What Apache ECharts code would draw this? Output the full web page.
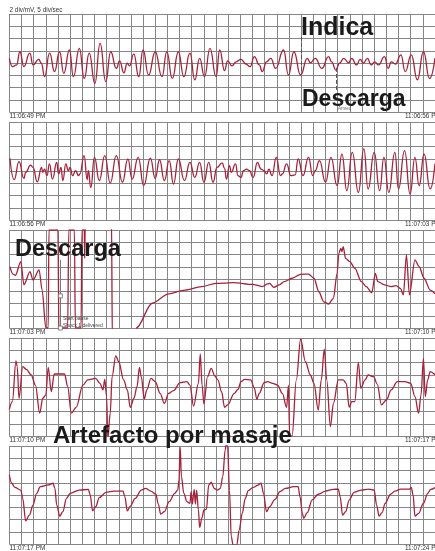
<!DOCTYPE html>
<html>
<head>
<meta charset="utf-8">
<script src="https://cdn.jsdelivr.net/npm/echarts/dist/echarts.min.js"></script>
<style>
  html, body { margin: 0; padding: 0; background: #fff; }
  #chart { width: 435px; height: 551px; }
</style>
</head>
<body>
<div id="chart"></div>
<script>
// ECG strips, 7 s each, [seconds, mV]
const strip1 = [
  [0.00,0.19],[0.055,-0.15],[0.12,-0.08],[0.174,0.46],[0.24,-0.15],[0.337,0.40],[0.39,-0.08],[0.484,0.15],
  [0.527,-0.01],[0.58,-0.56],[0.663,0.40],[0.744,-0.35],[0.826,0.46],[0.896,-0.42],[0.989,0.53],[1.054,-0.56],
  [1.151,0.60],[1.233,-0.63],[1.314,0.40],[1.407,-0.83],[1.493,0.80],[1.586,-0.76],[1.667,0.46],[1.76,-0.22],
  [1.814,0.09],[1.884,-0.40],[1.938,-0.01],[1.977,-0.12],[2.047,0.37],[2.129,-0.56],[2.199,0.53],[2.29,-0.49],
  [2.40,0.46],[2.51,-0.56],[2.59,0.46],[2.68,-0.63],[2.78,0.46],[2.87,-0.56],[2.97,0.40],[3.05,-0.69],
  [3.13,0.19],[3.21,-0.56],[3.30,0.60],[3.40,-0.56],[3.46,0.53],[3.54,-0.31],[3.59,0.09],[3.66,-0.12],
  [3.73,0.05],[3.81,0.15],[3.89,-0.04],[3.96,-0.15],[4.03,0.26],[4.11,-0.08],[4.16,-0.35],[4.23,0.05],
  [4.30,0.19],[4.38,-0.22],[4.51,0.53],[4.59,-0.49],[4.68,0.46],[4.79,-0.49],[4.90,0.19],[4.95,0.01],
  [5.03,0.19],[5.14,-0.22],[5.25,0.26],[5.30,0.05],[5.37,-0.29],[5.43,-0.01],[5.50,0.19],[5.58,0.01],
  [5.63,0.19],[5.71,-0.08],[5.77,0.15],[5.82,-0.01],[5.89,0.19],[5.95,-0.08],[6.01,0.05],[6.07,-0.08],
  [6.17,0.26],[6.23,-0.22],[6.28,0.05],[6.35,-0.04],[6.44,0.33],[6.51,-0.35],[6.61,0.33],[6.71,-0.69],
  [6.81,0.46],[6.91,-0.63],[7.0,0.2]
];
const strip2 = [
  [0.01,0.52],[0.08,-0.35],[0.16,0.38],[0.24,-0.30],[0.27,-0.05],[0.35,0.24],[0.39,0.15],[0.46,-0.44],
  [0.53,0.15],[0.55,-0.05],[0.58,0.08],[0.62,-0.19],[0.66,0.29],[0.71,-0.33],[0.78,0.35],[0.81,-0.12],
  [0.85,0.15],[0.88,-0.39],[0.93,0.29],[0.97,0.01],[1.00,0.15],[1.04,-0.19],[1.09,0.01],[1.14,-0.19],
  [1.16,-0.12],[1.23,0.63],[1.28,-0.35],[1.30,0.01],[1.34,-0.67],[1.40,0.56],[1.48,-0.39],[1.57,0.63],
  [1.66,-0.49],[1.76,0.63],[1.86,-0.46],[1.95,0.49],[2.02,-0.33],[2.12,0.56],[2.21,-0.60],[2.32,0.52],
  [2.40,-0.30],[2.47,0.46],[2.55,-0.39],[2.63,0.42],[2.70,-0.53],[2.78,0.49],[2.88,-0.39],[2.97,0.35],
  [3.05,-0.26],[3.13,0.35],[3.20,-0.46],[3.28,0.35],[3.35,-0.46],[3.415,0.15],[3.50,0.33],[3.54,0.11],
  [3.57,-0.33],[3.62,0.22],[3.65,-0.05],[3.72,0.29],[3.76,-0.19],[3.81,-0.26],[3.85,0.01],[3.90,0.08],
  [3.95,0.01],[4.01,-0.26],[4.08,0.35],[4.14,0.08],[4.19,0.01],[4.23,-0.12],[4.27,0.08],[4.32,-0.19],
  [4.39,0.56],[4.46,-0.19],[4.49,-0.12],[4.56,0.29],[4.63,-0.19],[4.70,-0.16],[4.75,0.49],[4.83,-0.19],
  [4.92,0.56],[4.99,-0.19],[5.03,0.01],[5.10,0.42],[5.20,-0.46],[5.29,0.56],[5.39,-0.60],[5.47,0.69],
  [5.55,-0.80],[5.64,0.76],[5.74,-0.87],[5.83,0.90],[5.90,-0.73],[6.00,0.76],[6.09,-0.80],[6.16,0.56],
  [6.24,-0.87],[6.34,0.76],[6.40,-0.73],[6.50,0.83],[6.59,-0.94],[6.67,0.56],[6.74,-0.60],[6.82,0.69],
  [6.92,-0.73],[7.0,0.3]
];
const strip3 = [
  [0.01,0.50],[0.06,0.20],[0.10,0.15],[0.19,0.71],[0.24,-0.24],[0.34,0.30],[0.39,-0.04],[0.49,0.37],
  [0.54,-0.45],[0.60,-2],[0.64,-2],[0.652,2],[0.80,2],[0.815,-2],[0.96,-2],[0.978,2],[1.07,2],[1.086,-2],
  [1.18,-2],[1.195,2],[1.233,2],[1.24,0.84],[1.25,2.6],[1.68,2.6],[1.695,-2.6],[2.06,-2.6],[2.09,-2.0],
  [2.35,-0.99],[2.62,-0.61],[2.89,-0.45],[3.16,-0.31],[3.40,-0.18],[3.68,-0.15],[4.00,-0.22],[4.16,-0.31],
  [4.25,-0.20],[4.28,-0.18],[4.35,-0.34],[4.44,-0.24],[4.52,-0.11],[4.65,0.03],[4.79,0.19],[4.92,0.20],
  [5.01,0.03],[5.09,-0.52],[5.17,-0.93],[5.25,-1.02],[5.33,-0.79],[5.39,0.23],[5.42,1.05],[5.45,1.25],
  [5.47,1.12],[5.49,1.32],[5.53,0.84],[5.60,0.71],[5.68,0.44],[5.79,-0.11],[5.87,-0.31],[5.96,-0.56],
  [6.02,0.23],[6.06,-0.11],[6.17,-0.24],[6.28,-0.31],[6.36,-0.27],[6.43,-0.38],[6.48,-0.65],[6.53,0.98],
  [6.58,-0.65],[6.67,0.78],[6.74,0.50],[6.82,0.03],[6.92,-0.45],[7.0,-0.6]
];
const strip4 = [
  [0.00,-0.91],[0.05,-0.60],[0.11,1.07],[0.13,0.83],[0.16,-0.46],[0.22,0.83],[0.28,0.72],[0.36,0.49],
  [0.43,0.08],[0.50,-1.07],[0.55,-0.46],[0.60,-0.33],[0.64,0.80],[0.69,-0.19],[0.74,0.53],[0.91,0.53],
  [0.96,0.01],[1.02,-1.07],[1.10,-0.83],[1.21,0.08],[1.29,0.29],[1.42,0.35],[1.49,0.15],[1.54,-0.12],
  [1.57,0.31],[1.60,-0.39],[1.62,-2.1],[1.66,-1.07],[1.69,0.42],[1.75,1.27],[1.80,1.03],[1.88,0.29],
  [1.94,-0.12],[1.99,-0.83],[2.05,-0.46],[2.10,0.01],[2.14,0.80],[2.17,0.42],[2.22,-0.49],[2.26,-0.12],
  [2.33,0.35],[2.40,0.22],[2.48,-0.26],[2.55,-0.67],[2.62,-0.26],[2.70,-0.15],[2.81,0.18],[2.92,0.22],
  [2.97,0.08],[3.03,-0.78],[3.11,0.15],[3.14,1.35],[3.17,0.08],[3.20,-0.69],[3.26,0.42],[3.32,0.76],
  [3.38,0.45],[3.43,0.29],[3.49,-0.19],[3.54,-0.83],[3.59,-0.73],[3.70,-0.26],[3.76,-0.10],[3.81,0.22],
  [3.87,0.31],[3.97,0.29],[4.03,-0.05],[4.07,-0.50],[4.11,-0.26],[4.19,0.18],[4.25,0.22],[4.33,0.15],
  [4.41,0.08],[4.49,-0.26],[4.56,-0.83],[4.59,0.08],[4.61,-2.0],[4.65,-2.0],[4.72,0.29],[4.79,1.95],
  [4.87,1.03],[4.95,0.49],[5.01,0.15],[5.08,-0.94],[5.13,0.29],[5.18,1.54],[5.22,0.29],[5.28,-1.62],
  [5.33,-0.67],[5.41,0.29],[5.49,0.29],[5.54,0.15],[5.59,-0.83],[5.63,-0.60],[5.68,-0.60],[5.74,0.99],
  [5.78,-0.05],[5.85,0.29],[5.90,0.49],[5.99,0.42],[6.05,0.12],[6.12,-0.73],[6.20,-0.53],[6.28,-0.12],
  [6.38,0.22],[6.50,0.22],[6.60,0.15],[6.67,-0.39],[6.73,-1.07],[6.77,-0.33],[6.81,1.17],[6.84,-0.39],
  [6.88,0.29],[6.92,0.63],[7.0,0.5]
];
const strip5 = [
  [0.00,0.82],[0.04,0.48],[0.09,0.31],[0.19,0.20],[0.22,-0.14],[0.27,-1.05],[0.33,-0.82],[0.39,-0.41],
  [0.45,0.07],[0.51,0.34],[0.64,0.41],[0.72,0.48],[0.75,0.27],[0.78,-0.41],[0.83,-0.86],[0.88,-0.68],
  [0.94,-0.14],[1.00,0.07],[1.15,0.20],[1.30,0.23],[1.33,0.00],[1.37,-0.65],[1.42,-0.48],[1.48,-0.11],
  [1.59,0.11],[1.72,0.16],[1.87,0.16],[1.90,-0.07],[1.94,-0.65],[1.99,-0.45],[2.07,-0.14],[2.17,0.20],
  [2.24,0.27],[2.33,0.16],[2.41,0.03],[2.45,-0.37],[2.49,-0.78],[2.55,-0.68],[2.63,-0.27],[2.72,0.07],
  [2.77,0.20],[2.79,0.61],[2.81,1.95],[2.83,0.75],[2.87,0.07],[2.92,-0.27],[2.97,-0.34],[2.99,0.14],
  [3.01,-0.37],[3.04,0.23],[3.06,-0.37],[3.08,0.20],[3.11,-0.61],[3.13,-1.32],[3.17,-0.91],[3.20,-0.61],
  [3.24,-0.59],[3.28,0.41],[3.32,0.52],[3.37,0.27],[3.42,0.20],[3.47,0.27],[3.51,0.75],[3.55,1.84],
  [3.57,2.1],[3.59,1.97],[3.62,0.20],[3.65,-1.70],[3.68,-2.05],[3.74,-2.05],[3.78,-1.43],[3.83,-0.75],
  [3.88,-0.14],[3.93,0.18],[4.01,0.31],[4.08,0.39],[4.14,0.48],[4.18,0.07],[4.23,-0.68],[4.28,-0.48],
  [4.37,-0.18],[4.45,0.14],[4.54,0.27],[4.68,0.34],[4.75,0.34],[4.78,-0.07],[4.82,-0.75],[4.84,-0.95],
  [4.90,-0.72],[4.98,-0.20],[5.08,0.03],[5.20,0.16],[5.33,0.23],[5.41,0.24],[5.44,-0.07],[5.48,-0.82],
  [5.53,-0.68],[5.59,-0.20],[5.67,0.11],[5.79,0.20],[5.91,0.24],[6.00,0.20],[6.04,-0.41],[6.08,-0.86],
  [6.13,-0.72],[6.18,-0.34],[6.27,0.03],[6.34,0.16],[6.44,0.24],[6.58,0.24],[6.61,0.31],[6.64,0.00],
  [6.67,-0.86],[6.73,-0.75],[6.81,-0.34],[6.88,0.07],[6.93,0.23],[7.0,0.3]
];
const strips = [strip1, strip2, strip3, strip4, strip5];
const stripSmooth = [0.5, 0.5, 0.3, 0.35, 0.35];
const stripTimes = ['11:06:49 PM', '11:06:56 PM', '11:07:03 PM', '11:07:10 PM', '11:07:17 PM', '11:07:24 PM'];
const scaleText = '2 div/mV, 5 div/sec';

// annotations: [strip, seconds, mV from, mV to]
const indicaLine = [0, 4.80, 1.06, -0.49];
const descargaLine = [0, 5.37, -0.20, -1.18];
const shockMarker = [2, 0.83, 0.78, -2.0];
const shockBoxes = [[0.84, -0.69], [0.84, -2.0]];

const myChart = echarts.init(document.getElementById('chart'));
const FONT = "'Liberation Sans', Arial, Helvetica, sans-serif";
const gridColor = '#868686';
const traceColor = '#a8213a';
const TOP0 = 14, STEP = 108, H = 98;

const grids = [], xAxes = [], yAxes = [], series = [];
strips.forEach((s, i) => {
  grids.push({ left: 9.3, right: -4.1, top: TOP0 + STEP * i, height: H });
  xAxes.push({
    gridIndex: i, type: 'value', min: 0, max: 7, interval: 0.2,
    axisLine: { show: false }, axisTick: { show: false }, axisLabel: { show: false },
    splitLine: { show: true, lineStyle: { color: gridColor, width: 1 } }
  });
  yAxes.push({
    gridIndex: i, type: 'value', min: -2, max: 2, interval: 0.5,
    axisLine: { show: false }, axisTick: { show: false }, axisLabel: { show: false },
    splitLine: { show: true, lineStyle: { color: gridColor, width: 1 } }
  });
  series.push({
    type: 'line', xAxisIndex: i, yAxisIndex: i, data: s,
    showSymbol: false, symbol: 'none', smooth: stripSmooth[i], smoothMonotone: 'x',
    lineStyle: { color: traceColor, width: 1.3 }, silent: true
  });
});

const dashed = { type: 'dashed', color: '#555', width: 1 };
series[0].markLine = {
  symbol: 'none', silent: true, label: { show: false }, lineStyle: dashed,
  data: [indicaLine, descargaLine].map(a => [{ coord: [a[1], a[2]] }, { coord: [a[1], a[3]] }])
};
series[2].markLine = {
  symbol: 'none', silent: true, label: { show: false },
  lineStyle: { type: 'solid', color: '#777', width: 1 },
  data: [[{ coord: [shockMarker[1], shockMarker[2]] }, { coord: [shockMarker[1], shockMarker[3]] }]]
};
series[2].markPoint = {
  symbol: 'rect', symbolSize: 4, silent: true, label: { show: false },
  itemStyle: { color: '#fff', borderColor: '#666', borderWidth: 0.8 },
  data: shockBoxes.map(p => ({ coord: p }))
};

function txt(text, x, y, size, opts) {
  return {
    type: 'text', x: x, y: y, silent: true, z: 100,
    style: Object.assign({
      text: text, fontSize: size, fontFamily: FONT, fill: '#333',
      align: 'left', verticalAlign: 'middle'
    }, opts || {})
  };
}

const graphics = [txt(scaleText, 9.5, 10, 6.4)];
strips.forEach((s, i) => {
  const yb = TOP0 + STEP * i + H + 4;
  graphics.push(txt(stripTimes[i], 9.5, yb, 6.4));
  graphics.push(txt(stripTimes[i + 1], 405, yb, 6.4));
});
const big = { fontWeight: 'bold', fill: '#1a1a1a' };
graphics.push(txt('Indica', 301, 28, 25, big));
graphics.push(txt('Descarga', 302, 99.5, 23, big));
graphics.push(txt('Descarga', 15, 250, 23.5, big));
graphics.push(txt('Artefacto por masaje', 53, 436.5, 24, big));
graphics.push(txt('Armed', 338, 108.5, 4.5, { fill: '#666' }));
graphics.push(txt('Start pause', 63, 319, 5, { fill: '#444' }));
graphics.push(txt('Shock 1 delivered', 63, 326, 5, { fill: '#444' }));

const option = {
  animation: false,
  backgroundColor: '#fff',
  grid: grids,
  xAxis: xAxes,
  yAxis: yAxes,
  series: series,
  graphic: graphics
};
myChart.setOption(option);
</script>
</body>
</html>
